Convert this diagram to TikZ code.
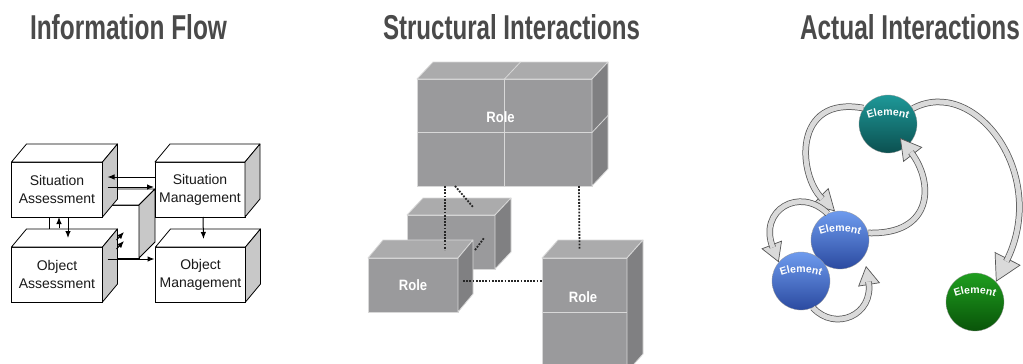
\documentclass[tikz,border=0pt]{standalone}
\usepackage{fontspec}
\setmainfont{Liberation Sans}
\usetikzlibrary{calc,arrows.meta,decorations.text}

\definecolor{titlegray}{HTML}{4A4A4A}
\definecolor{sidegray}{HTML}{C8C8C8}
\definecolor{rolefront}{HTML}{9A9A9C}
\definecolor{roletopc}{HTML}{ABABAC}
\definecolor{rolesidec}{HTML}{808082}
\definecolor{roleedge}{HTML}{D8D8D8}
\definecolor{arrowfill}{HTML}{DADADA}
\definecolor{arrowedge}{HTML}{555555}
\definecolor{tealtop}{HTML}{1E9898}
\definecolor{tealbot}{HTML}{0B5050}
\definecolor{bluetop}{HTML}{6E9BEE}
\definecolor{bluebot}{HTML}{2B4AA0}
\definecolor{greentop}{HTML}{1F9E1F}
\definecolor{greenbot}{HTML}{095409}

\newcommand\elementfont{\fontsize{10.5}{10.5}\selectfont\bfseries}

% top and side faces of a cuboid whose front face is node #1
\newcommand\boxfaces[5]{%
  \path[#4] (#1.north west) -- ++(#2,#3) -- ($(#1.north east)+(#2,#3)$) -- (#1.north east) -- cycle;
  \path[#5] (#1.north east) -- ++(#2,#3) -- ($(#1.south east)+(#2,#3)$) -- (#1.south east) -- cycle;
}

% curved label on a sphere
\newcommand\elementlabel[1]{%
  \path[decorate, decoration={text along path, text align=center, text color=white,
        text={|\elementfont|Element}}]
    ($(#1.center)+(-27,-2)$) .. controls ($(#1.center)+(-9,-11)$) and ($(#1.center)+(9,-11)$) .. ($(#1.center)+(27,-2)$);
}

\begin{document}
\begin{tikzpicture}[x=1pt,y=-1pt,
  title/.style={anchor=base, inner sep=0pt, text=titlegray, font=\bfseries},
  infobox/.style={draw=black, fill=white, line width=0.8pt, inner sep=0pt, outer sep=0pt,
    align=center, font=\fontsize{14}{18}\selectfont, text=black!90},
  infotop/.style={draw=black, fill=white, line width=0.8pt, line join=round},
  infoside/.style={draw=black, fill=sidegray, line width=0.8pt, line join=round},
  flow/.style={line width=1pt, -{Latex[length=7pt,width=5.5pt]}},
  rolebox/.style={fill=rolefront, draw=roleedge, line width=0.8pt, inner sep=0pt, outer sep=0pt},
  rtop/.style={fill=roletopc, draw=roleedge, line width=0.8pt, line join=round},
  rside/.style={fill=rolesidec, draw=roleedge, line width=0.8pt, line join=round},
  roletext/.style={text=white, inner sep=0pt, font=\bfseries\fontsize{15}{15}\selectfont},
  divider/.style={draw=roleedge, line width=0.8pt},
  link/.style={line width=1.8pt, dash pattern=on 1.8pt off 1.4pt, draw=black!85},
  element/.style={circle, minimum size=58pt, inner sep=0pt, draw=white!60!black, line width=0.3pt},
  ribbonhead/.style={draw=arrowedge, line width=0.7pt,
    -{Triangle[length=#1, width=#1+3pt, fill=arrowfill, line width=0.7pt]}},
  ribbon/.style={draw=arrowedge, double=arrowfill, double distance=5pt, line width=0.75pt,
    shorten >=#1}
]
\useasboundingbox[fill=white] (0,0) rectangle (1023,364);

% ---------- titles ----------
\node[title] (t1) at (128.5,39) {\resizebox{197pt}{25pt}{Information Flow}};
\node[title] (t2) at (511.5,39) {\resizebox{257pt}{25pt}{Structural Interactions}};
\node[title] (t3) at (910,39) {\resizebox{220pt}{25pt}{Actual Interactions}};

% ---------- information flow ----------
\node[infobox, minimum width=90pt, minimum height=53pt] (hub) at (94,231.5) {};
\boxfaces{hub}{16}{-16}{infotop}{infoside}
\node[infobox, minimum width=91pt, minimum height=55pt] (SA) at (57,189.5) {Situation\\Assessment};
\boxfaces{SA}{15}{-18}{infotop}{infoside}
\node[infobox, minimum width=91pt, minimum height=55pt] (OA) at (57,274.5) {Object\\Assessment};
\boxfaces{OA}{15}{-18}{infotop}{infoside}
\node[infobox, minimum width=90pt, minimum height=55pt] (SM) at (200,189.5) {Situation\\Management};
\boxfaces{SM}{15}{-18}{infotop}{infoside}
\node[infobox, minimum width=90pt, minimum height=55pt] (OM) at (200.5,274.5) {Object\\Management};
\boxfaces{OM}{15}{-18}{infotop}{infoside}

\draw[flow] ($(SM.west)+(0,-12.5)$) -- ($(SA.east)+(5,-12.5)$);
\draw[flow] ($(SA.east)+(5,-2.5)$) -- ($(SM.west)+(-1,-2.5)$);
\draw[flow] ($(SA.south)+(11,0)$) -- ($(OA.north)+(11,-9)$);
\draw[flow] ($(OA.north)+(2,-19)$) -- ($(SA.south)+(2,0)$);
\draw[flow] ($(OA.east)+(5,-15.5)$) -- ($(OM.west)+(-1,-15.5)$);
\draw[flow] ($(SM.south)+(3,0)$) -- ($(OM.north)+(3,-8)$);
\draw[flow] ($(OA.north east)+(14,-7)$) -- ($(hub.east)+(-15,0.5)$);
\draw[flow] ($(OA.north east)+(14,2)$) -- ($(hub.east)+(-15,9.5)$);

% ---------- structural interactions ----------
\node[rolebox, minimum width=175pt, minimum height=107pt] (RT) at (504.5,132.5) {};
\boxfaces{RT}{16}{-17}{rtop}{rside}
\draw[divider] (RT.north) -- (RT.south);
\draw[divider] (RT.west) -- (RT.east);
\draw[divider] (RT.north) -- ++(16,-17);
\draw[divider] (RT.east) -- ++(16,-17);
\node[roletext] (RTlabel) at ($(RT.center)+(-4,-15)$) {\scalebox{0.87}[1]{Role}};

\node[rolebox, minimum width=88pt, minimum height=54pt] (RM) at (451,242) {};
\boxfaces{RM}{16}{-17}{rtop}{rside}

\node[rolebox, minimum width=90pt, minimum height=54pt] (RL) at (413,285) {\scalebox{0.87}[1]{\bfseries\fontsize{15}{15}\selectfont\color{white}Role}};
\boxfaces{RL}{15}{-18}{rtop}{rside}

\node[rolebox, minimum width=85pt, minimum height=114pt] (RR) at (584.5,315) {};
\boxfaces{RR}{16}{-18}{rtop}{rside}
\draw[divider] ($(RR.north west)+(0,54)$) -- ($(RR.north east)+(0,54)$);
\node[roletext] (RRlabel) at ($(RR.north)+(-1.5,39)$) {\scalebox{0.87}[1]{Role}};

\draw[link] ($(RT.south west)+(28,0)$) -- ($(RL.north)+(32,-8)$);
\draw[link] ($(RT.south west)+(38,0)$) -- ($(RM.north)+(22,-8)$);
\draw[link] ($(RL.north east)+(17,-8)$) -- ($(RM.center)+(33,-4)$);
\draw[link] ($(RT.south east)+(-13,0)$) -- ($(RR.north)+(-5,-9)$);
\draw[link] ($(RL.east)+(5,-4)$) -- ($(RR.west)+(0,-34)$);

% ---------- actual interactions ----------
\node[element, top color=tealtop, bottom color=tealbot] (teal) at (888,124) {};
\node[element, top color=bluetop, bottom color=bluebot] (blue1) at (840,240) {};
\node[element, top color=bluetop, bottom color=bluebot] (blue2) at (801,281) {};
\node[element, top color=greentop, bottom color=greenbot] (green) at (975,302) {};
\elementlabel{teal}
\elementlabel{blue1}
\elementlabel{blue2}
\elementlabel{green}

% teal -> green
\draw[ribbonhead=26pt] (teal.32) .. controls (975,75) and (1050,175) .. (green.44);
\draw[ribbon=23pt] (teal.32) .. controls (975,75) and (1050,175) .. (green.44);
% teal -> upper blue
\draw[ribbonhead=21pt] (teal.147) .. controls (792,95) and (798,175) .. (blue1.100);
\draw[ribbon=18pt] (teal.147) .. controls (792,95) and (798,175) .. (blue1.100);
% upper blue -> teal
\draw[ribbonhead=21pt] (blue1.14) .. controls (934,235) and (934,182) .. ($(teal.center)+(12,14)$);
\draw[ribbon=18pt] (blue1.14) .. controls (934,235) and (934,182) .. ($(teal.center)+(12,14)$);
% upper blue -> lower blue
\draw[ribbonhead=19pt] (blue1.115) .. controls (800,186) and (758,210) .. (blue2.140);
\draw[ribbon=16pt] (blue1.115) .. controls (800,186) and (758,210) .. (blue2.140);
% lower blue -> upper blue
\draw[ribbonhead=19pt] (blue2.-66) .. controls (835,332) and (874,315) .. ($(blue1.center)+(26,26)$);
\draw[ribbon=16pt] (blue2.-66) .. controls (835,332) and (874,315) .. ($(blue1.center)+(26,26)$);
\end{tikzpicture}
\end{document}
